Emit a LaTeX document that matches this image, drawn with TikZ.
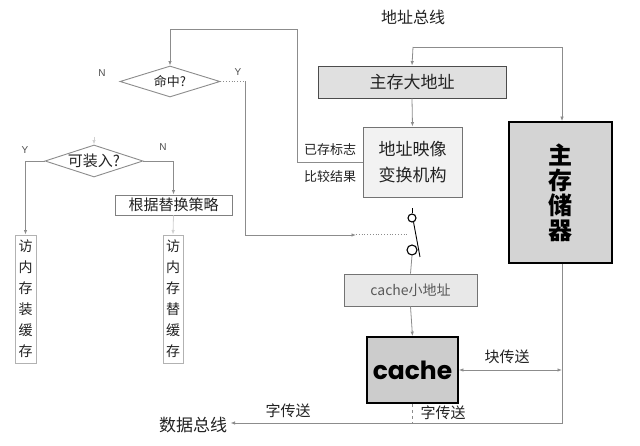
\documentclass[tikz,border=0pt]{standalone}
\usepackage{fontspec}
\setmainfont{Liberation Sans}
\newfontfamily\cjk{Noto Sans CJK SC}
\newfontfamily\popfont{Poppins}
\usetikzlibrary{shapes.geometric,arrows.meta}
\definecolor{ln}{HTML}{8C8C8C}
\definecolor{tx}{HTML}{222222}
\newcommand\fsz[2]{\fontsize{#1}{#2}\selectfont}
\begin{document}
\begin{tikzpicture}[x=1pt,y=-1pt,
  wire/.style={draw=ln, line width=0.8pt},
  tip/.style={-{Latex[length=4.5pt,width=3.5pt]}},
  dtip/.style={{Latex[length=4.5pt,width=3.5pt]}-{Latex[length=4.5pt,width=3.5pt]}},
  lbl/.style={text=tx, font={\cjk\fsz{#1}{#1}}},
  yn/.style={text=tx!80, font={\fsz{10}{10}}},
  graybox/.style={draw=#1, line width=0.9pt, inner sep=0pt, text=tx},
  heavybox/.style={draw=black, line width=1.8pt, inner sep=0pt, text=black},
  dia/.style={diamond, draw=ln, line width=0.9pt, inner sep=0pt, aspect=3.2, text=tx}
]
\fill[white] (0,0) rectangle (640,446);
\useasboundingbox (0,0) rectangle (640,446);

% titles
\node[lbl=16] (abus) at (413,17) {地址总线};
\node[lbl=17] (db) at (193,425) {数据总线};

% right column boxes
\node[graybox=black!70, fill=black!12, minimum width=188pt, minimum height=32pt,
      font={\cjk\fsz{17}{20}}] (ma) at (412,82) {主存大地址};
\node[graybox=black!55, fill=black!5, minimum width=99pt, minimum height=70pt,
      align=center, font={\cjk\fsz{17}{26}}] (map) at (412.5,162) {地址映像\\变换机构};
\node[heavybox, fill=black!17, minimum width=103pt, minimum height=141pt,
      align=center, font={\cjk\bfseries\fsz{24}{25}}] (mm) at (560.5,192.5) {主\\存\\储\\器};
\node[graybox=black!55, fill=black!9, minimum width=133pt, minimum height=32pt,
      text=black!65, font={\cjk\fsz{14}{16}}] (ca) at (410.5,290) {cache小地址};
\node[heavybox, fill=black!20, minimum width=91pt, minimum height=66pt,
      font={\popfont\bfseries\fsz{25}{25}}] (cc) at (412.5,370) {cache};

% switch
\node[circle, draw=black, line width=1.1pt, fill=white, minimum size=8pt, inner sep=0pt] (s1) at (412,218) {};
\node[circle, draw=black, line width=1.1pt, fill=white, minimum size=10pt, inner sep=0pt] (s2) at (412,250) {};
\coordinate (lv) at (420,257);
\coordinate (st) at (412,208);
\draw[line width=0.9pt] (s1.-70) -- (lv);
\draw[line width=0.8pt] (s1.north) -- (st);

% left flow
\node[dia, minimum width=100pt, minimum height=31pt, font={\cjk\fsz{13}{13}}] (hit) at (170,81.5) {命中?};
\node[dia, minimum width=98pt, minimum height=32pt, font={\cjk\fsz{15}{15}}] (ld) at (94,161) {可装入?};
\node[graybox=black!50, fill=white, minimum width=117pt, minimum height=20pt,
      font={\cjk\fsz{15}{15}}] (rp) at (173.5,205) {根据替换策略};
\node[graybox=black!30, fill=white, minimum width=21pt, minimum height=128pt,
      align=center, font={\cjk\fsz{14}{21}}] (v1) at (25.5,299) {访\\内\\存\\装\\缓\\存};
\node[graybox=black!30, fill=white, minimum width=20pt, minimum height=128pt,
      align=center, font={\cjk\fsz{14}{21}}] (v2) at (173,299) {访\\内\\存\\替\\缓\\存};

% labels
\node[yn] (n1) at (102,73) {N};
\node[yn] (y1l) at (238,72) {Y};
\node[yn] (y2l) at (25,150) {Y};
\node[yn] (n2) at (163,147) {N};
\node[lbl=13] (ls1) at (330,150) {已存标志};
\node[lbl=13] (ls2) at (330,177) {比较结果};
\node[lbl=15] (bt) at (507,357) {块传送};
\node[lbl=15] (wt1) at (443,413) {字传送};
\node[lbl=15] (wt2) at (288,411) {字传送};

% coordinates
\coordinate (k1) at (297,29);
\coordinate (k2) at (170,29);
\coordinate (ya) at (245,81.5);
\coordinate (yb) at (245,235);
\coordinate (yc) at (356,235);
\coordinate (sw) at (409,235);
\coordinate (ab) at (413,47);
\coordinate (abr) at (562,47);
\coordinate (br) at (562,423);
\coordinate (ldt) at (94,137);

% connectors
\draw[wire,tip] (map.west) -| (k1) -- (k2) -- (hit.north);
\draw[wire,dotted] (hit.east) -- (ya);
\draw[wire,tip] (ya) -- (yb) -- (yc);
\draw[wire,dotted,line width=1pt] (yc) -- (sw);
\draw[wire,tip] (ab) -- (ma.north);
\draw[wire,tip] (ab) -- (abr) -- (abr |- mm.north);
\draw[wire,tip] (ma.south) -- (map.north);
\draw[wire] (s2.south) -- (ca.north);
\draw[wire,tip] (ca.south) -- (cc.north);
\draw[wire,dashed] (cc.south) -- (cc.south |- br);
\draw[wire,tip] (br |- mm.south) -- (br) -- (br -| db.east);
\draw[wire,dtip] (cc.east) -- (cc.east -| br);
\draw[wire,tip] (ld.west) -| (v1.north);
\draw[wire,tip] (ld.east) -| (rp.north);
\draw[wire,tip,draw=ln!40] (rp.south) -- (v2.north);
\draw[wire,tip,draw=ln!40] (ldt) -- (ld.north);
\end{tikzpicture}
\end{document}
